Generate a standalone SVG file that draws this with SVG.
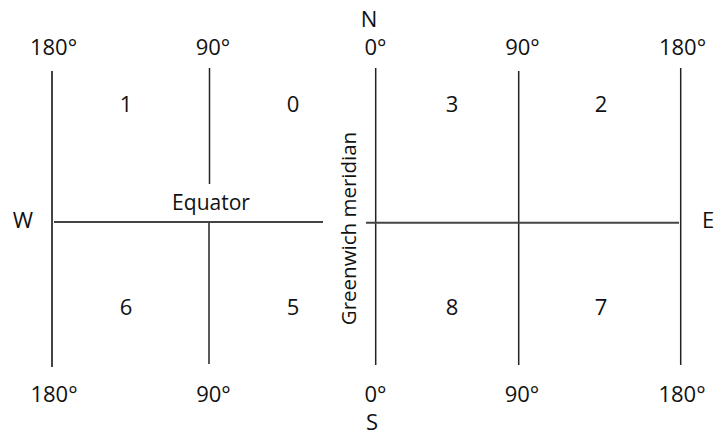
<svg xmlns="http://www.w3.org/2000/svg" width="714" height="435" viewBox="0 0 714 435">
<style>
text{font-family:"Open Sans","Noto Sans","Liberation Sans",sans-serif;font-size:22px;fill:#111;text-anchor:middle}
.eq{font-size:21px}
.gm{font-size:20.5px}
line{stroke:#222;stroke-width:1.5;fill:none}
.g{stroke:#444;stroke-width:2}
</style>
<rect width="714" height="435" fill="#fff"/>
<g id="grid">
<line class="g" x1="52" y1="71" x2="52" y2="367"/>
<line x1="209.5" y1="68" x2="209.5" y2="184"/>
<line x1="209" y1="222" x2="209" y2="364"/>
<line class="g" x1="54" y1="222" x2="323" y2="222"/>
<line x1="375.7" y1="68" x2="375.7" y2="365"/>
<line x1="518.7" y1="71" x2="518.7" y2="365"/>
<line x1="680.7" y1="68" x2="680.7" y2="365"/>
<line class="g" x1="366" y1="222.7" x2="679" y2="222.7"/>
</g>
<g id="longitudes">
<text x="53.5" y="55">180°</text>
<text x="213" y="55">90°</text>
<text x="375.5" y="55">0°</text>
<text x="522.5" y="55">90°</text>
<text x="682.5" y="55">180°</text>
<text x="54" y="402">180°</text>
<text x="213.5" y="402">90°</text>
<text x="375.5" y="402">0°</text>
<text x="522" y="402">90°</text>
<text x="682" y="402">180°</text>
</g>
<g id="compass">
<text x="369" y="27">N</text>
<text x="372" y="430">S</text>
<text x="23" y="228">W</text>
<text x="708" y="228">E</text>
</g>
<g id="zones">
<text x="126" y="112">1</text>
<text x="293" y="112">0</text>
<text x="452" y="112">3</text>
<text x="601" y="112">2</text>
<text x="126" y="315">6</text>
<text x="293" y="315">5</text>
<text x="452" y="315">8</text>
<text x="601" y="315">7</text>
</g>
<g id="equator-label"><text class="eq" x="211" y="210">Equator</text></g>
<g id="greenwich-label"><text class="gm" transform="translate(356,228.5) rotate(-90)">Greenwich meridian</text></g>
</svg>
